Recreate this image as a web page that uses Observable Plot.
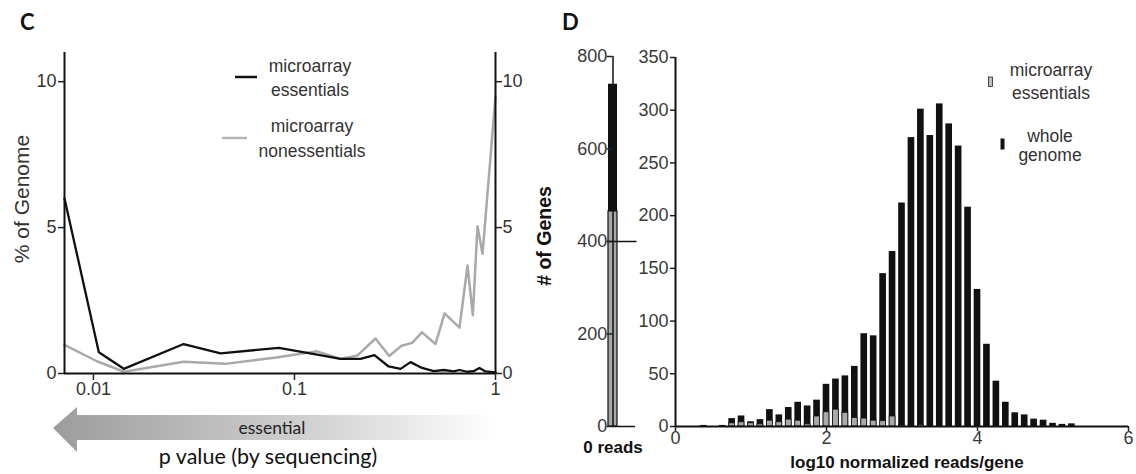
<!DOCTYPE html>
<html><head><meta charset="utf-8">
<script src="https://cdn.jsdelivr.net/npm/d3@7"></script>
<script src="https://cdn.jsdelivr.net/npm/@observablehq/plot@0.6"></script>
<style>
html,body{margin:0;padding:0;background:#fff;}
#root{position:relative;width:1136px;height:474px;overflow:hidden;background:#fff;}
#root svg{position:absolute;}
</style></head><body><div id="root"></div>
<script>
// ---------- Panel C data ----------
const pEss   = [0.00718, 0.01064, 0.01416, 0.0281, 0.0429, 0.0836, 0.1297, 0.1694, 0.213, 0.250, 0.294, 0.337, 0.378, 0.431, 0.493, 0.553, 0.620, 0.662, 0.723, 0.778, 0.832, 0.892, 1];
const valEss = [6.0, 0.73, 0.16, 1.01, 0.69, 0.88, 0.65, 0.50, 0.50, 0.63, 0.24, 0.16, 0.39, 0.19, 0.08, 0.12, 0.07, 0.12, 0.06, 0.08, 0.19, 0.07, 0.04];
const pNon   = [0.00718, 0.0104, 0.0142, 0.0281, 0.0452, 0.0812, 0.1297, 0.1694, 0.206, 0.253, 0.296, 0.341, 0.385, 0.431, 0.503, 0.558, 0.662, 0.726, 0.771, 0.814, 0.862, 1];
const valNon = [0.98, 0.42, 0.06, 0.40, 0.33, 0.55, 0.76, 0.50, 0.62, 1.20, 0.60, 0.95, 1.05, 1.41, 1.01, 2.06, 1.57, 3.70, 2.00, 5.05, 4.10, 9.50];
const cXDomain = [0.00718, 1];
const cXTicks = [0.01, 0.1, 1];
const cYTicks = [0, 5, 10];
const cYDomain = [0, 11];
const cLegend = ["microarray essentials", "microarray nonessentials"];

// ---------- Panel D data ----------
const binWidth = 0.125;
const binCenters = [0.125,0.25,0.375,0.5,0.625,0.75,0.875,1.0,1.125,1.25,1.375,1.5,1.625,1.75,1.875,2.0,2.125,2.25,2.375,2.5,2.625,2.75,2.875,3.0,3.125,3.25,3.375,3.5,3.625,3.75,3.875,4.0,4.125,4.25,4.375,4.5,4.625,4.75,4.875,5.0,5.125,5.25];
const wholeGenome = [0,0,1,0,1,7.5,10,4.5,6.5,16,11,18,23,19.5,25,40,45,48,57,88,86,145,166,212,274,301,276,306,287,266,208,130,78,43,23,13,11,7,6,3,2,2.5];
const essentials  = [0,0,0,0,0,3,4,3,2,5.5,4,6.5,5.5,2,9.5,13.5,16,13,8,7.5,5.5,5,9.5,1,0,1.5,0,0,0,0,0,0,0,0,0,0,0,0,0,0,0,0];
const zeroLabel = "0 reads";
const zeroWhole = 740, zeroEss = 465;
const dXTicks = [0, 2, 4, 6];
const dYTicks = [0, 50, 100, 150, 200, 250, 300, 350];
const dZeroTicks = [0, 200, 400, 600, 800];

const FONT = "'Liberation Sans', Arial, Helvetica, sans-serif";
const root = document.getElementById("root");
function place(el, left, top) { el.style.left = left + "px"; el.style.top = top + "px"; root.appendChild(el); }

// ---------- Panel C plot ----------
const essRows = pEss.map((p, i) => ({p, v: valEss[i]}));
const nonRows = pNon.map((p, i) => ({p, v: valNon[i]}));
const plotC = Plot.plot({
  width: 540, height: 474,
  marginLeft: 64, marginRight: 45, marginTop: 52, marginBottom: 101,
  style: {background: "transparent", fontFamily: FONT, fontSize: "18px", color: "#222", overflow: "visible"},
  x: {type: "log", domain: cXDomain},
  y: {domain: cYDomain},
  marks: [
    Plot.line(nonRows, {x: "p", y: "v", stroke: "#a9a9a9", strokeWidth: 2.5, strokeLinejoin: "round"}),
    Plot.line(essRows, {x: "p", y: "v", stroke: "#111", strokeWidth: 2.3, strokeLinejoin: "round"}),
    Plot.ruleX([cXDomain[0]], {stroke: "#111", strokeWidth: 2}),
    Plot.ruleX([cXDomain[1]], {stroke: "#111", strokeWidth: 2}),
    Plot.ruleY([0], {stroke: "#111", strokeWidth: 2}),
    Plot.axisY({ticks: cYTicks, anchor: "left", tickSize: 6, tickPadding: 2, label: null, fontSize: 18, strokeWidth: 1.5, fill: "#333"}),
    Plot.axisY({ticks: cYTicks, anchor: "right", tickSize: 6, tickPadding: 1, label: null, fontSize: 18, strokeWidth: 1.5, fill: "#333"}),
    Plot.axisX({ticks: cXTicks, tickFormat: d => String(d), tickSize: 7, tickPadding: 2, label: null, fontSize: 18, strokeWidth: 1.5, fill: "#333"})
  ]
});
place(plotC, 0, 0);

// ---------- Panel D: zero-reads bar ----------
const zw = [{label: zeroLabel, n: zeroWhole}];
const ze = [{label: zeroLabel, n: zeroEss}];
const plotD0 = Plot.plot({
  width: 100, height: 474,
  marginLeft: 68, marginRight: 22.5, marginTop: 56, marginBottom: 48,
  style: {background: "transparent", fontFamily: FONT, fontSize: "18px", color: "#222", overflow: "visible"},
  x: {type: "band", domain: [zeroLabel], padding: 0},
  y: {domain: [0, 800]},
  marks: [
    Plot.barY(zw, {x: "label", y: "n", fill: "#111"}),
    Plot.barY(ze, {x: "label", y: "n", fill: "#a9a9a9", stroke: "#111", strokeWidth: 1.2}),
    Plot.ruleX(zw, {x: "label", y1: 0, y2: 800, stroke: "#111", strokeWidth: 1.5}),
    Plot.ruleY([400], {stroke: "#111", strokeWidth: 1.5, insetLeft: -1.3, insetRight: -19}),
    Plot.ruleY([0], {stroke: "#111", strokeWidth: 1.5, insetLeft: 4, insetRight: -17.5}),
    Plot.axisY({ticks: dZeroTicks, anchor: "left", tickSize: 6, tickPadding: 0, dx: 4.7, label: null, fontSize: 18, strokeWidth: 1.5, fill: "#3a3a3a"}),
    Plot.axisX({anchor: "bottom", tickSize: 0, tickPadding: 14, label: null, fontSize: 17, fontWeight: "bold", fill: "#111"})
  ]
});
place(plotD0, 540, 0);

// ---------- Panel D: histogram ----------
const wRows = binCenters.map((c, i) => ({c, n: wholeGenome[i]}));
const eRows = binCenters.map((c, i) => ({c, n: essentials[i]})).filter(d => d.n > 0);
const plotD = Plot.plot({
  width: 516, height: 474,
  marginLeft: 55, marginRight: 8, marginTop: 57, marginBottom: 48,
  style: {background: "transparent", fontFamily: FONT, fontSize: "18px", color: "#222", overflow: "visible"},
  x: {domain: [0, 6]},
  y: {domain: [0, 350]},
  marks: [
    Plot.rectY(wRows, {x1: d => d.c - binWidth / 2, x2: d => d.c + binWidth / 2, y: "n", fill: "#111", insetLeft: 1.4, insetRight: 1.4}),
    Plot.rectY(eRows, {x1: d => d.c - binWidth / 2, x2: d => d.c + binWidth / 2, y: "n", fill: "#a9a9a9", stroke: "#111", strokeWidth: 0.8, insetLeft: 1.8, insetRight: 1.8}),
    Plot.ruleX([0], {stroke: "#111", strokeWidth: 2}),
    Plot.ruleY([0], {stroke: "#111", strokeWidth: 2}),
    Plot.axisY({ticks: dYTicks, anchor: "left", tickSize: 5, tickPadding: 2, label: null, fontSize: 18, strokeWidth: 1.5, fill: "#3a3a3a"}),
    Plot.axisX({ticks: dXTicks, tickFormat: d => String(d), anchor: "bottom", tickSize: 5, tickPadding: 0, label: null, fontSize: 18, strokeWidth: 1.5, fill: "#3a3a3a"})
  ]
});
place(plotD, 620, 0);

// ---------- Annotations overlay ----------
const ov = d3.create("svg").attr("width", 1136).attr("height", 474).style("left", "0px").style("top", "0px");
const defs = ov.append("defs");
const g = defs.append("linearGradient").attr("id", "arrowGrad").attr("gradientUnits", "userSpaceOnUse")
  .attr("x1", 53).attr("x2", 500).attr("y1", 0).attr("y2", 0);
g.append("stop").attr("offset", "0").attr("stop-color", "#9c9c9c");
g.append("stop").attr("offset", "0.55").attr("stop-color", "#cfcfcf");
g.append("stop").attr("offset", "1").attr("stop-color", "#ffffff");
ov.append("polygon").attr("points", "53,428 77,407 77,415 500,415 500,440 77,440 77,452").attr("fill", "url(#arrowGrad)");

function txt(x, y, s, o = {}) {
  const t = ov.append("text").attr("x", x).attr("y", y).text(s)
    .attr("font-family", o.family || FONT).attr("font-size", o.size || 17.5)
    .attr("fill", o.fill || "#333").attr("text-anchor", o.anchor || "middle");
  if (o.weight) t.attr("font-weight", o.weight);
  if (o.rotate) t.attr("transform", `rotate(-90 ${x} ${y})`);
  return t;
}
// panel letters
txt(20, 30, "C", {family: "Lato, sans-serif", size: 22, weight: 700, fill: "#111", anchor: "start"});
txt(562, 30, "D", {family: "Lato, sans-serif", size: 22, weight: 700, fill: "#111", anchor: "start"});
// panel C titles
txt(29, 199, "% of Genome", {size: 21, rotate: true});
txt(272, 434, "essential", {family: "Lato, sans-serif", size: 17.5, fill: "#222"});
txt(268, 464, "p value (by sequencing)", {family: "Lato, sans-serif", size: 21.5, fill: "#111"});
// panel C legend
ov.append("line").attr("x1", 235).attr("x2", 257).attr("y1", 77).attr("y2", 77).attr("stroke", "#111").attr("stroke-width", 2.5);
txt(310, 72, cLegend[0].split(" ")[0]);
txt(310, 96, cLegend[0].split(" ")[1]);
ov.append("line").attr("x1", 222).attr("x2", 247).attr("y1", 138).attr("y2", 138).attr("stroke", "#b5b5b5").attr("stroke-width", 2.5);
txt(312, 132, cLegend[1].split(" ")[0]);
txt(312, 157, cLegend[1].split(" ")[1]);
// panel D titles
txt(551, 236, "# of Genes", {size: 19.5, weight: "bold", fill: "#111", rotate: true});
txt(907, 468, "log10 normalized reads/gene", {size: 17, weight: "bold", fill: "#111"});
// panel D legend
ov.append("rect").attr("x", 988.5).attr("y", 77).attr("width", 4).attr("height", 9.5).attr("fill", "#bdbdbd").attr("stroke", "#222").attr("stroke-width", 0.8);
txt(1051, 76, "microarray");
txt(1051, 99, "essentials");
ov.append("rect").attr("x", 1000.5).attr("y", 138.5).attr("width", 4).attr("height", 11).attr("fill", "#111");
txt(1050, 142, "whole");
txt(1050, 161, "genome");
place(ov.node(), 0, 0);
</script></body></html>
